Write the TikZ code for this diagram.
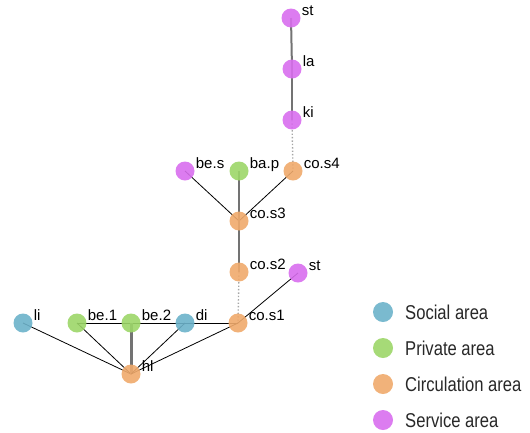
\documentclass[tikz,border=0pt]{standalone}
\usepackage{fontspec}
\setmainfont{Liberation Sans}
\newfontfamily\legfont[FakeStretch=0.83]{Liberation Sans}
\definecolor{socC}{RGB}{108,178,202}
\definecolor{priC}{RGB}{156,214,104}
\definecolor{cirC}{RGB}{240,170,108}
\definecolor{svcC}{RGB}{216,110,238}
\definecolor{legT}{RGB}{40,40,40}
\begin{document}
\begin{tikzpicture}[x=1bp,y=-1bp,
  vtx/.style={circle,inner sep=0pt,minimum size=19bp,fill opacity=0.9,text opacity=1},
  soc/.style={vtx,fill=socC},
  pri/.style={vtx,fill=priC},
  cir/.style={vtx,fill=cirC},
  svc/.style={vtx,fill=svcC},
  lbl/.style={anchor=base west,inner sep=0pt,font=\fontsize{15bp}{17bp}\selectfont,xshift=1bp,yshift=3bp},
  thinE/.style={draw=black,line width=0.8bp},
  thickE/.style={draw=black!55,line width=2bp},
  thickerE/.style={draw=black!55,line width=3bp},
  dotE/.style={draw=black!35,line width=1.4bp,dotted},
  legtxt/.style={anchor=west,inner sep=0pt,font=\legfont\fontsize{20bp}{22bp}\selectfont,text=legT}
]
\useasboundingbox (0,0) rectangle (530,432);
% edges first
\coordinate (pst) at (291,18);
\coordinate (pla) at (292,69);
\coordinate (pki) at (292,120);
\coordinate (pcs4) at (293,171);
\coordinate (pbes) at (185,171);
\coordinate (pbap) at (239,171);
\coordinate (pcs3) at (239,221);
\coordinate (pcs2) at (239,272);
\coordinate (pst2) at (298,273);
\coordinate (pcs1) at (238,323);
\coordinate (pdi) at (185,323);
\coordinate (pbe2) at (131,323);
\coordinate (pbe1) at (77,323);
\coordinate (pli) at (23,323);
\coordinate (phl) at (131,374);
\draw[thickE] (pst) -- (pla);
\draw[thickE] (pla) -- (pki);
\draw[dotE] (pki) -- (pcs4);
\draw[thinE] (pcs4) -- (pcs3);
\draw[thinE] (pbes) -- (pcs3);
\draw[thickE] (pbap) -- (pcs3);
\draw[thickE] (pcs3) -- (pcs2);
\draw[dotE] (pcs2) -- (pcs1);
\draw[thinE] (pst2) -- (pcs1);
\draw[thinE] (pbe1) -- (pbe2);
\draw[thinE] (pbe2) -- (pdi);
\draw[thinE] (pdi) -- (pcs1);
\draw[thinE] (pli) -- (phl);
\draw[thinE] (pbe1) -- (phl);
\draw[thickerE] (pbe2) -- (phl);
\draw[thinE] (pdi) -- (phl);
\draw[thinE] (pcs1) -- (phl);
% nodes
\node[svc,label={[lbl]0:st}] (st) at (pst) {};
\node[svc,label={[lbl]0:la}] (la) at (pla) {};
\node[svc,label={[lbl]0:ki}] (ki) at (pki) {};
\node[cir,label={[lbl]0:co.s4}] (cs4) at (pcs4) {};
\node[svc,label={[lbl]0:be.s}] (bes) at (pbes) {};
\node[pri,label={[lbl]0:ba.p}] (bap) at (pbap) {};
\node[cir,label={[lbl]0:co.s3}] (cs3) at (pcs3) {};
\node[cir,label={[lbl]0:co.s2}] (cs2) at (pcs2) {};
\node[svc,label={[lbl]0:st}] (st2) at (pst2) {};
\node[cir,label={[lbl]0:co.s1}] (cs1) at (pcs1) {};
\node[soc,label={[lbl]0:di}] (di) at (pdi) {};
\node[pri,label={[lbl]0:be.2}] (be2) at (pbe2) {};
\node[pri,label={[lbl]0:be.1}] (be1) at (pbe1) {};
\node[soc,label={[lbl]0:li}] (li) at (pli) {};
\node[cir,label={[lbl]0:hl}] (hl) at (phl) {};
% legend
\node[soc,minimum size=20bp] (lg1) at (383,312) {};
\node[pri,minimum size=20bp] (lg2) at (383,348) {};
\node[cir,minimum size=20bp] (lg3) at (383,384) {};
\node[svc,minimum size=20bp] (lg4) at (383,420) {};
\node[legtxt] (lt1) at (405,312) {Social area};
\node[legtxt] (lt2) at (405,348) {Private area};
\node[legtxt] (lt3) at (405,384) {Circulation area};
\node[legtxt] (lt4) at (405,420) {Service area};
\end{tikzpicture}
\end{document}
